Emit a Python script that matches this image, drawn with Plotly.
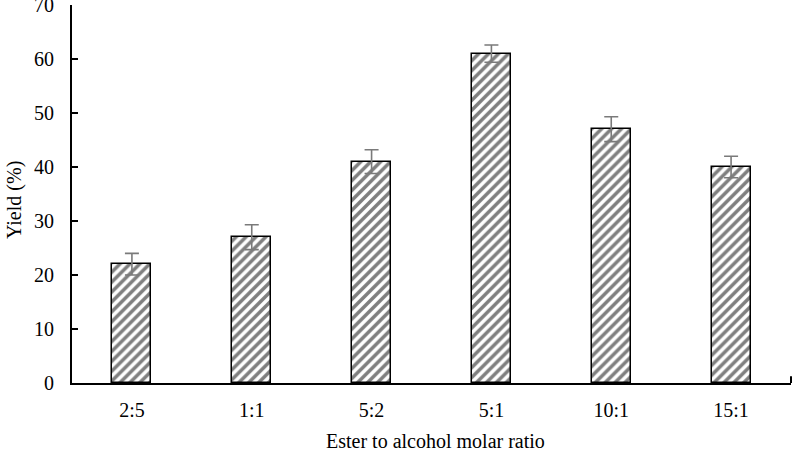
import plotly.graph_objects as go

categories = ["2:5", "1:1", "5:2", "5:1", "10:1", "15:1"]
yield_pct = [22, 27, 41, 61, 47, 40]
yield_err = [2.0, 2.3, 2.2, 1.6, 2.3, 2.0]
y_ticks = [0, 10, 20, 30, 40, 50, 60, 70]

FONT = "Liberation Serif, Times New Roman, serif"
FS = 20

fig = go.Figure(
    go.Bar(
        x=categories,
        y=yield_pct,
        width=0.325,
        marker=dict(
            color="white",
            line=dict(color="black", width=1.5),
            pattern=dict(shape="/", fgcolor="black", bgcolor="white",
                         size=7, solidity=0.5, fillmode="overlay"),
        ),
        error_y=dict(type="data", array=yield_err, visible=True,
                     color="#7a7a7a", thickness=1.6, width=7),
    )
)

fig.update_layout(
    width=793, height=457,
    margin=dict(l=72, r=2, t=5, b=74),
    paper_bgcolor="white", plot_bgcolor="white",
    font=dict(family=FONT, size=FS, color="black"),
    showlegend=False,
    bargap=0,
    xaxis=dict(
        type="category", range=[-0.5, 5.5],
        showline=True, linecolor="black", linewidth=2,
        ticks="", showgrid=False, zeroline=False,
        automargin=False, ticklabelstandoff=8,
        tickfont=dict(family=FONT, size=FS, color="black"),
    ),
    yaxis=dict(
        range=[0, 70], tickvals=y_ticks,
        showline=True, linecolor="black", linewidth=2,
        ticks="inside", ticklen=6, tickwidth=2, tickcolor="black",
        showgrid=False, zeroline=False,
        automargin=False, ticklabelstandoff=12, ticklabeloverflow="allow",
        tickfont=dict(family=FONT, size=FS, color="black"),
    ),
    annotations=[
        dict(text="Yield (%)", xref="paper", yref="paper", x=-0.0807, y=0.484,
             textangle=-90, showarrow=False, xanchor="center", yanchor="middle",
             font=dict(family=FONT, size=FS, color="black")),
        dict(text="Ester to alcohol molar ratio", xref="paper", yref="paper",
             x=0.506, y=-0.153, showarrow=False, xanchor="center", yanchor="middle",
             font=dict(family=FONT, size=FS, color="black")),
    ],
    shapes=[
        dict(type="line", xref="x domain", yref="y domain", x0=1, x1=1,
             y0=0, y1=0.018, line=dict(color="black", width=2)),
    ],
)

fig.write_html(
    "out.html",
    config={"displayModeBar": False},
    post_script="document.body.style.margin='0';document.body.style.overflow='hidden';",
)
